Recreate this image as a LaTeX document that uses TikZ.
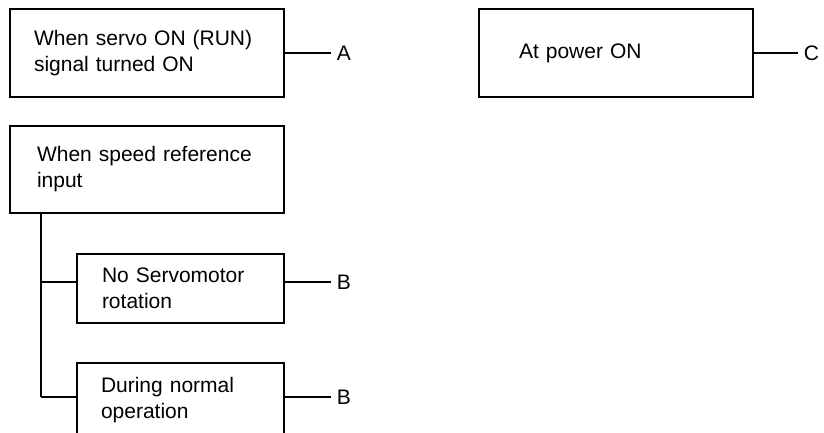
\documentclass[tikz,border=0pt]{standalone}
\usepackage{fontspec}
\setmainfont{Liberation Sans}
\usetikzlibrary{positioning,calc}

\begin{document}
\begin{tikzpicture}[x=1pt,y=1pt,
  box/.style={draw,line width=1.4pt,align=left,inner xsep=24pt,inner ysep=0pt,font=\fontsize{21}{26}\selectfont},
  link/.style={line width=2.2pt},
  spine/.style={line width=1.6pt},
  tag/.style={inner xsep=6pt,inner ysep=0pt,font=\fontsize{21}{26}\selectfont}]
\useasboundingbox (0,0) rectangle (824,432);
\clip (0,0) rectangle (824,432);
% top row
\node[box,text width=226pt,minimum height=88pt] (servo) at (147,379) {When servo ON (RUN)\\signal turned ON};
\node[box,inner xsep=40pt,text width=194pt,minimum height=88pt] (power) at (616,379) {At power ON};
\node[tag,right=46pt of servo.east] (labA) {A};
\node[tag,right=44pt of power.east] (labC) {C};
\draw[link] (servo.east) -- (labA.west);
\draw[link] (power.east) -- (labC.west);
% speed reference branch
\node[box,inner xsep=27pt,text width=220pt,minimum height=87pt] (speed) at (147,262.5) {When speed reference\\input};
\node[box,inner xsep=25pt,text width=157pt,minimum height=69pt] (norot) at (180.5,143.5) {No Servomotor\\rotation};
\node[box,inner xsep=24pt,text width=159pt,minimum height=74pt] (normal) at (180.5,32) {During normal\\operation};
\foreach \sub/\tap in {norot/150,normal/35}{
  \coordinate (tap-\sub) at (41,\tap);
  \draw[link] (tap-\sub) -- (tap-\sub -| \sub.west);
  \coordinate (out-\sub) at (tap-\sub -| \sub.east);
  \node[tag,right=46pt of out-\sub] (lab-\sub) {B};
  \draw[link] (out-\sub) -- (lab-\sub.west);
}
\draw[spine] (speed.south -| tap-norot) -- (tap-normal);
\end{tikzpicture}
\end{document}
